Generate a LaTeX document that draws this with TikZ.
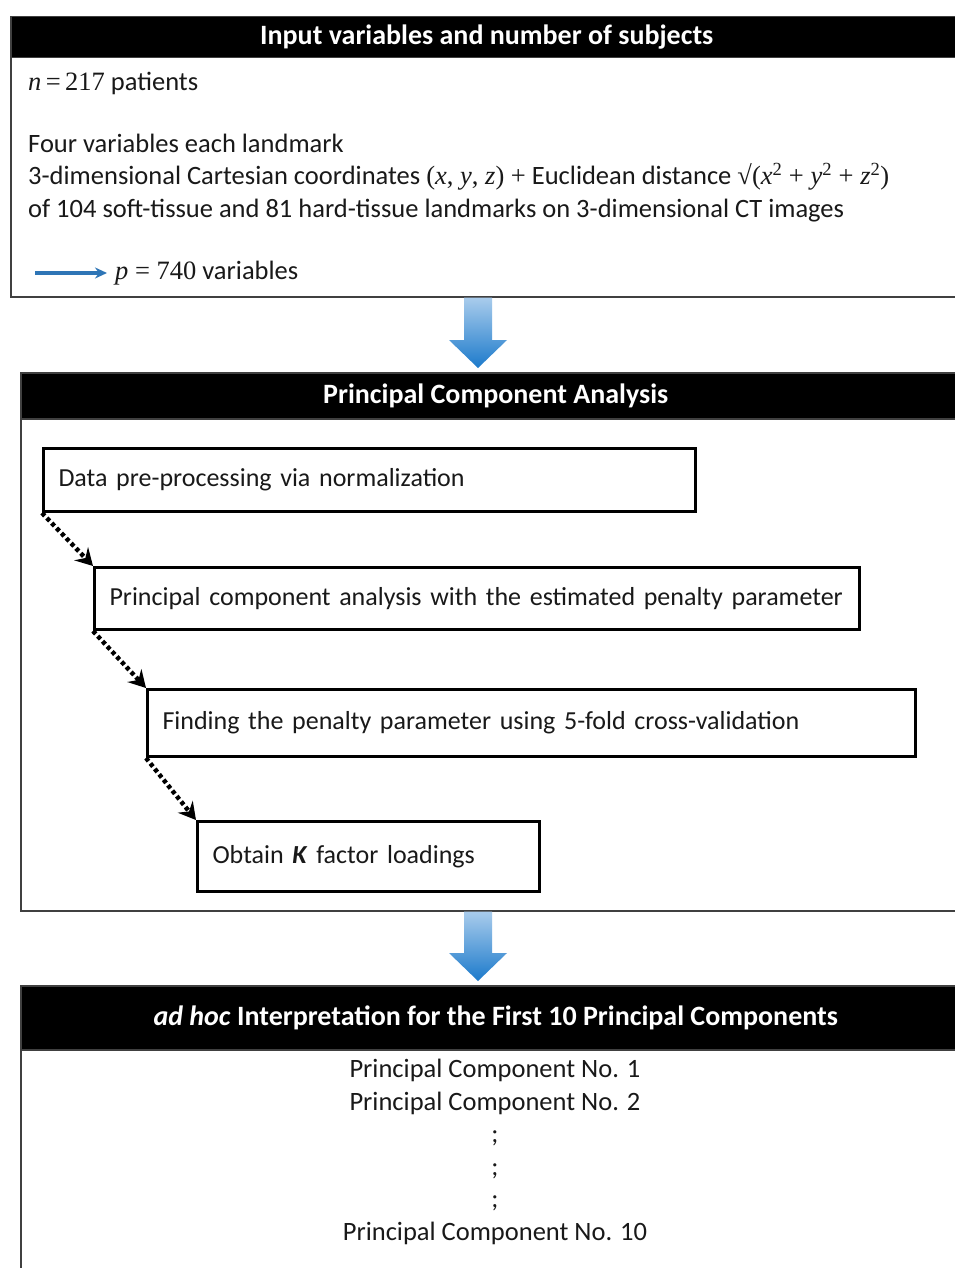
\documentclass[tikz,border=0pt]{standalone}
\usepackage{fontspec}
\setmainfont{Carlito}
\newfontfamily\serif{Liberation Serif}
\usepackage{xcolor}
\usetikzlibrary{arrows.meta}
\usetikzlibrary{calc}
\usetikzlibrary{positioning}
\definecolor{arrowlight}{HTML}{A9CCEC}
\definecolor{arrowdark}{HTML}{1C7ACB}
\definecolor{thinblue}{HTML}{2E75B6}

\begin{document}
\begin{tikzpicture}[x=1pt,y=-1pt,
    every node/.style={font=\fontsize{26.5}{32.5}\selectfont, text=black!90},
    frame/.style={draw=black!75, line width=1.5pt, anchor=north west, inner sep=0},
    band/.style={fill=black, draw=black!75, line width=1.5pt, anchor=north west, inner sep=0,
      text=white, font=\fontsize{28}{32.5}\selectfont\bfseries},
    stepbox/.style={draw=black, line width=3pt, anchor=north west, inner xsep=15pt,
      inner ysep=0, align=left, font=\fontsize{26}{32}\selectfont},
    txt/.style={anchor=west, inner sep=0, align=left},
    dotarrow/.style={line width=4.5pt, dash pattern=on 4pt off 3pt,
      -{Stealth[length=17pt,width=19pt,inset=6pt]}},
    bluearrow/.style={top color=arrowlight, bottom color=arrowdark, draw=none}]
  \useasboundingbox[fill=white] (0,0) rectangle (954,1268);

  % input block
  \node[frame, minimum width=952pt, minimum height=280pt] (In) at (10,16) {};
  \node[band, minimum width=952pt, minimum height=41pt] (InH) at (10,16) {Input variables and number of subjects};
  \node[txt] (N) at (28,83) {{\serif\textit{n}\,=\,217} patients};
  \node[txt] (Four) at (28,178) {Four variables each landmark\\
    3-dimensional Cartesian coordinates {\serif(\textit{x}, \textit{y}, \textit{z}) +} Euclidean distance
    {\serif√(\textit{x}\textsuperscript{2} + \textit{y}\textsuperscript{2} + \textit{z}\textsuperscript{2})}\\
    of 104 soft-tissue and 81 hard-tissue landmarks on 3-dimensional CT images};
  \coordinate (Pst) at (35,273);
  \node[txt] (Pv) at (115,273) {{\serif\textit{p} = 740} variables};
  \draw[thinblue, line width=3.5pt, shorten >=8pt, -{Stealth[length=12pt,width=11pt]}] (Pst) -- (Pv);

  % pca block
  \node[frame, minimum width=950pt, minimum height=538pt] (Pca) at (20,372) {};
  \node[band, minimum width=950pt, minimum height=46pt] (PcaH) at (20,372) {Principal Component Analysis};
  \node[stepbox, text width=622pt, minimum height=63pt] (S1) at (42,447) {Data pre-processing via normalization};
  \node[stepbox, text width=735pt, minimum height=62pt] (S2) at (93,566) {\mbox{Principal component analysis with the estimated penalty parameter}};
  \node[stepbox, text width=738pt, minimum height=67pt] (S3) at (146,688) {Finding the penalty parameter using 5-fold cross-validation};
  \node[stepbox, text width=312pt, minimum height=70pt] (S4) at (196,820) {Obtain \textbf{\textit{K}} factor loadings};
  \path [dotarrow] (S1.south west) edge (S2.north west);
  \path [dotarrow] (S2.south west) edge (S3.north west);
  \path [dotarrow] (S3.south west) edge (S4.north west);

  % interpretation block
  \node[frame, minimum width=950pt, minimum height=290pt] (Ad) at (20,985) {};
  \node[band, minimum width=950pt, minimum height=64pt] (AdH) at (20,985) {\textit{ad hoc} Interpretation for the First 10 Principal Components};
  \node[align=center, inner sep=0] (Pcs) at (495,1152) {Principal Component No. 1\\Principal Component No. 2\\;\\;\\;\\Principal Component No. 10};

  % big arrows between blocks
  \coordinate (col) at (478,0);
  \foreach \a/\b in {In/Pca, Pca/Ad}
    \shade[bluearrow] ($(col |- \a.south)+(-14,0)$) -- ($(col |- \a.south)+(14,0)$)
      -- ($(col |- \b.north)+(14,-32)$) -- ($(col |- \b.north)+(29,-32)$)
      -- ($(col |- \b.north)+(0,-4)$) -- ($(col |- \b.north)+(-29,-32)$)
      -- ($(col |- \b.north)+(-14,-32)$) -- cycle;
\end{tikzpicture}
\end{document}
